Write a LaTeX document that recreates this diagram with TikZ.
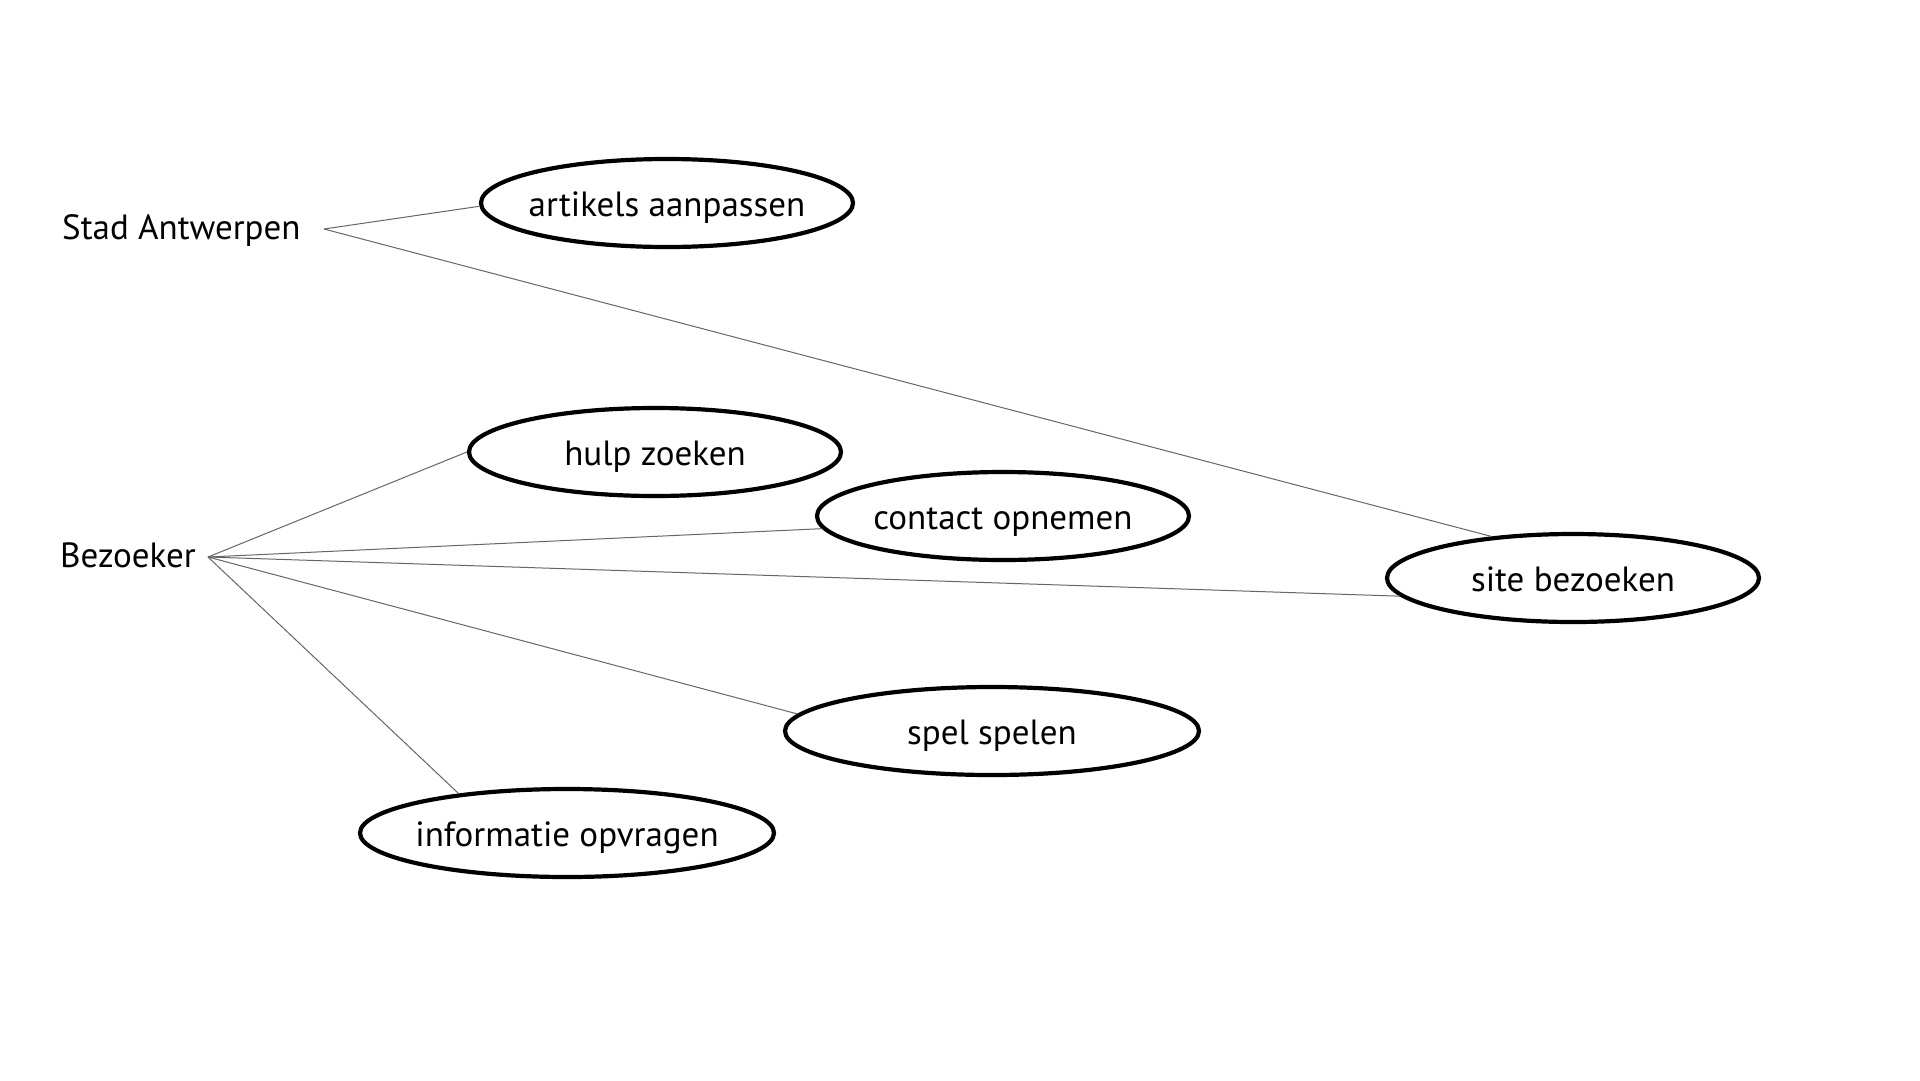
\documentclass[tikz,border=0pt]{standalone}
\usepackage{fontspec}
\setmainfont{PT Sans}
\usetikzlibrary{shapes.geometric}
\begin{document}
\begin{tikzpicture}[x=1pt,y=-1pt,
  usecase/.style={ellipse,draw=black,line width=4.2pt,inner xsep=-60pt,inner ysep=0pt,
    minimum width=372pt,minimum height=88pt,text height=30pt,text depth=4pt,
    font=\fontsize{35}{42}\selectfont},
  widecase/.style={usecase,minimum width=414pt},
  actor/.style={anchor=west,inner sep=0pt,font=\fontsize{35}{42}\selectfont},
  assoc/.style={draw=black!60,line width=1pt}]
\useasboundingbox (0,0) rectangle (1920,1080);
\fill[white] (0,0) rectangle (1920,1080);

% actors
\node[actor] (stad) at (62,231) {Stad Antwerpen};
\node[actor] (bez) at (60,555) {Bezoeker};
\coordinate (stadhub) at (324,229);
\coordinate (bezhub) at (208,557);

% use cases
\node[usecase] (art) at (667,203) {artikels aanpassen};
\node[usecase] (hulp) at (655,452) {hulp zoeken};
\node[usecase] (contact) at (1003,516) {contact opnemen};
\node[usecase] (site) at (1573,578) {site bezoeken};
\node[widecase] (spel) at (992,731) {spel spelen};
\node[widecase] (info) at (567,833) {informatie opvragen};

% associations
\draw[assoc] (stadhub) -- (art.181);
\draw[assoc] (stadhub) -- (site.153.7);
\draw[assoc] (bezhub) -- (hulp.180);
\draw[assoc] (bezhub) -- (contact.184.3);
\draw[assoc] (bezhub) -- (site.186.9);
\draw[assoc] (bezhub) -- (spel.175.3);
\draw[assoc] (bezhub) -- (info.160.2);
\end{tikzpicture}
\end{document}
